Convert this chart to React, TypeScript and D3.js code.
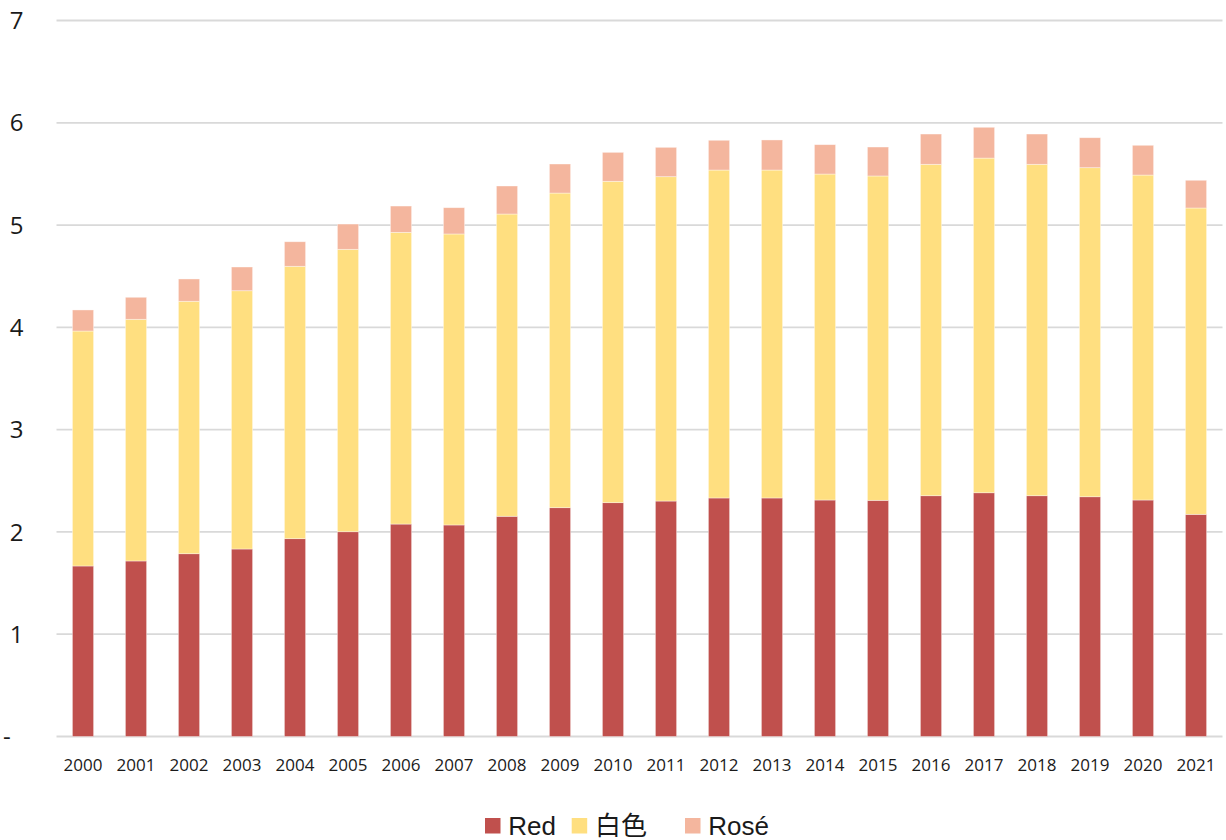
import React from "react";
import * as d3 from "d3";

const years = ["2000","2001","2002","2003","2004","2005","2006","2007","2008","2009","2010","2011","2012","2013","2014","2015","2016","2017","2018","2019","2020","2021"];
const redValues = [1.667,1.716,1.787,1.833,1.934,2.002,2.077,2.068,2.153,2.237,2.286,2.302,2.332,2.332,2.312,2.309,2.354,2.383,2.354,2.344,2.312,2.172];
const whiteValues = [2.297,2.363,2.468,2.525,2.663,2.761,2.852,2.845,2.955,3.076,3.142,3.171,3.206,3.206,3.187,3.171,3.240,3.272,3.240,3.217,3.177,2.995];
const roseValues = [0.206,0.215,0.218,0.232,0.240,0.247,0.257,0.257,0.274,0.284,0.283,0.287,0.291,0.294,0.287,0.283,0.296,0.301,0.296,0.293,0.291,0.271];
const seriesNames = ["Red", "白色", "Rosé"];
const seriesKeys = ["red", "white", "rose"];
const seriesColors = ["#C0504D", "#FFDF80", "#F4B69E"];
const yTicks = [0, 1, 2, 3, 4, 5, 6, 7];
const yTickLabels = ["-", "1", "2", "3", "4", "5", "6", "7"];

const W = 1226;
const H = 840;
const plotLeft = 56.5;
const plotRight = 1222.5;
const plotTop = 20.5;
const plotBottom = 736.5;

export default function App() {
  const rows = years.map((y, i) => ({
    year: y,
    red: redValues[i],
    white: whiteValues[i],
    rose: roseValues[i],
  }));
  const stacked = d3.stack<any>().keys(seriesKeys)(rows);
  const x = d3.scaleBand().domain(years).range([plotLeft, plotRight]).paddingInner(0.6).paddingOuter(0.3);
  const y = d3.scaleLinear().domain([0, 7]).range([plotBottom, plotTop]);

  const legendX = [485, 571.7, 685];

  return (
    <div style={{ position: "absolute", left: 0, top: 0 }}>
      <svg width={W} height={H} style={{ display: "block", background: "#fff" }}>
        {yTicks.map((t) => (
          <line key={t} x1={plotLeft} x2={plotRight} y1={y(t)} y2={y(t)} stroke="#d9d9d9" strokeWidth={t === 0 ? 2.2 : 1.8} />
        ))}
        {yTicks.map((t, i) =>
          t === 0 ? (
            <text key={"l" + t} x={3} y={y(t)} dy="0.35em" fontFamily="'Open Sans', sans-serif" fontSize={24} fill="#1a1a1a">{yTickLabels[i]}</text>
          ) : (
            <text key={"l" + t} x={23.5} y={y(t)} dy="0.36em" textAnchor="end" fontFamily="'Open Sans', sans-serif" fontSize={24} fill="#1a1a1a">{yTickLabels[i]}</text>
          )
        )}
        {stacked.map((s, si) => (
          <g key={seriesKeys[si]} fill={seriesColors[si]}>
            {s.map((d: any, i: number) => (
              <rect
                key={i}
                x={x(years[i])}
                width={x.bandwidth()}
                y={y(d[1])}
                height={y(d[0]) - y(d[1])}
                stroke="#ffffff"
                strokeOpacity={0.5}
                strokeWidth={0.75}
              />
            ))}
          </g>
        ))}
        {years.map((yr) => (
          <text key={"x" + yr} x={(x(yr) as number) + x.bandwidth() / 2} y={770.5} textAnchor="middle" fontFamily="'Open Sans', sans-serif" fontSize={17} fill="#1a1a1a">{yr}</text>
        ))}
        {seriesNames.map((n, i) => (
          <g key={"lg" + i}>
            <rect x={legendX[i]} y={818} width={15.5} height={15.5} fill={seriesColors[i]} />
            <text x={legendX[i] + 23.3} y={835} fontFamily="'Liberation Sans', Arial, 'Noto Sans CJK SC', sans-serif" fontSize={26} fill="#1a1a1a">{n}</text>
          </g>
        ))}
      </svg>
    </div>
  );
}
